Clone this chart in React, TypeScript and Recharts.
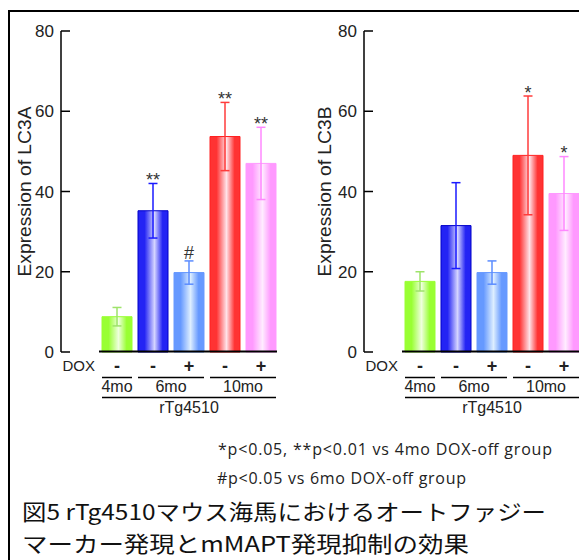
import { Bar, ComposedChart, ErrorBar, LabelList, Line, XAxis, YAxis } from "recharts";

// treatment groups along the x axis
const doxSigns = ["-", "-", "+", "-", "+"];
const ageGroups = ["4mo", "6mo", "6mo", "10mo", "10mo"];
const strainName = "rTg4510";

// LC3A expression (mean, error, significance mark)
const lc3aMean = [8.8, 35.2, 19.8, 53.7, 47.0];
const lc3aErr = [2.3, 6.8, 2.9, 8.5, 9.0];
const lc3aMarks = ["", "**", "#", "**", "**"];

// LC3B expression
const lc3bMean = [17.6, 31.5, 19.8, 49.0, 39.5];
const lc3bErr = [2.4, 10.7, 2.9, 14.8, 9.2];
const lc3bMarks = ["", "", "", "*", "*"];

const yTicks = [0, 20, 40, 60, 80];

const footnotes = [
  "*p<0.05, **p<0.01 vs 4mo DOX-off group",
  "#p<0.05 vs 6mo DOX-off group",
];
const titleLines = [
  "図5 rTg4510マウス海馬におけるオートファジー",
  "マーカー発現とmMAPT発現抑制の効果",
];

const palette = [
  { edge: "#99ff33", light: "#eeffdd", stroke: "#99ff33", err: "#9ee36a" },
  { edge: "#2424f4", light: "#d4d4ff", stroke: "#0000c8", err: "#1a1aff" },
  { edge: "#6699ff", light: "#ddeeff", stroke: "#6699ff", err: "#5b8cff" },
  { edge: "#ff3333", light: "#ffe2e8", stroke: "#ff2020", err: "#ff3b3b" },
  { edge: "#ff99ff", light: "#ffecff", stroke: "#ff99ff", err: "#ff88ff" },
];

const BAND = 36;
const BAR = 30;
const FONT = "'Liberation Sans', Arial, sans-serif";
const INK = "#222";

const YTick = ({ x, y, payload }: any) => (
  <g>
    <line x1={x} x2={x + 9} y1={y} y2={y} stroke="#000" strokeWidth={1.5} />
    <text x={x - 7} y={y} dy="0.36em" textAnchor="end" fontSize={17} fontFamily={FONT} fill={INK}>
      {payload.value}
    </text>
  </g>
);

const GroupTick = (props: any) => {
  const { x, y } = props;
  const i: number = props.index ?? props.payload.index;
  const n = doxSigns.length;
  const half = BAR / 2;
  const last = i === n - 1;
  const joinsNext = !last && ageGroups[i + 1] === ageGroups[i];
  const startsGroup = i === 0 || ageGroups[i - 1] !== ageGroups[i];
  let size = 0;
  while (i + size < n && ageGroups[i + size] === ageGroups[i]) size++;
  return (
    <g fontFamily={FONT} fill={INK}>
      <line x1={x - BAND / 2} x2={last ? x + half + 1 : x + BAND / 2} y1={y - 0.5} y2={y - 0.5} stroke="#000" strokeWidth={2} />
      {i === 0 && (
        <text x={x - 22} y={y + 18.5} textAnchor="end" fontSize={15}>
          DOX
        </text>
      )}
      <text x={x} y={y + 20} textAnchor="middle" fontSize={18} fontWeight="bold">
        {doxSigns[i]}
      </text>
      <line x1={x - half} x2={joinsNext ? x + BAND - half : x + half} y1={y + 25.5} y2={y + 25.5} stroke="#000" strokeWidth={1.5} />
      {startsGroup && (
        <text x={x + ((size - 1) * BAND) / 2} y={y + 40} textAnchor="middle" fontSize={16}>
          {ageGroups[i]}
        </text>
      )}
      <line x1={x - half} x2={last ? x + half : x + BAND - half} y1={y + 45.5} y2={y + 45.5} stroke="#000" strokeWidth={1.5} />
      {i === Math.floor(n / 2) && (
        <text x={x} y={y + 61} textAnchor="middle" fontSize={16}>
          {strainName}
        </text>
      )}
    </g>
  );
};

const MarkLabel = ({ viewBox, value }: any) => {
  if (!value) return null;
  const lift = value === "#" ? 2 : -2.5;
  return (
    <text x={viewBox.x} y={viewBox.y - lift} textAnchor="middle" fontSize={18} fontFamily={FONT} fill="#333">
      {value}
    </text>
  );
};

interface PanelProps {
  id: string;
  title: string;
  mean: number[];
  err: number[];
  marks: string[];
  labelX: number;
}

const Panel = ({ id, title, mean, err, marks, labelX }: PanelProps) => {
  const rows = ageGroups.map((age, i) => ({
    key: `${age}${doxSigns[i]}`,
    [`v${i}`]: mean[i],
    [`e${i}`]: err[i],
    top: mean[i] + err[i],
    mark: marks[i],
  }));
  return (
    <ComposedChart width={290} height={420} data={rows} margin={{ top: 31, right: 11, bottom: 0, left: 0 }}>
      <defs>
        {palette.map((c, i) => (
          <linearGradient key={i} id={`${id}-g${i}`} x1="0" y1="0" x2="1" y2="0">
            <stop offset="0" stopColor={c.edge} />
            <stop offset="0.22" stopColor={c.edge} />
            <stop offset="0.55" stopColor={c.light} />
            <stop offset="0.82" stopColor={c.edge} />
            <stop offset="1" stopColor={c.edge} />
          </linearGradient>
        ))}
      </defs>
      <XAxis
        dataKey="key"
        interval={0}
        padding={{ left: 38, right: 0 }}
        axisLine={false}
        tickLine={false}
        tickSize={0}
        tickMargin={0}
        height={68}
        tick={<GroupTick />}
      />
      <YAxis
        domain={[0, 80]}
        ticks={yTicks}
        width={61}
        axisLine={{ stroke: "#000", strokeWidth: 1.5 }}
        tickLine={false}
        tickSize={0}
        tickMargin={0}
        tick={<YTick />}
        label={({ viewBox }: any) => (
          <text
            transform={`translate(${viewBox.x + labelX}, ${viewBox.y + viewBox.height / 2}) rotate(-90)`}
            textAnchor="middle"
            dominantBaseline="central"
            fontSize={18}
            fontFamily={FONT}
            fill={INK}
            textLength={170}
            lengthAdjust="spacingAndGlyphs"
          >
            {title}
          </text>
        )}
      />
      {palette.map((c, i) => (
        <Bar
          key={i}
          dataKey={`v${i}`}
          stackId="s"
          barSize={BAR}
          fill={`url(#${id}-g${i})`}
          stroke={c.stroke}
          strokeWidth={1}
          isAnimationActive={false}
        >
          <ErrorBar dataKey={`e${i}`} width={4.5} stroke={c.err} strokeWidth={1.5} />
        </Bar>
      ))}
      <Line dataKey="top" stroke="none" dot={false} activeDot={false} isAnimationActive={false}>
        <LabelList dataKey="mark" content={<MarkLabel />} />
      </Line>
    </ComposedChart>
  );
};

export default function App() {
  return (
    <div
      style={{
        position: "absolute",
        left: 0,
        top: 0,
        width: 579,
        height: 560,
        overflow: "hidden",
        background: "#fff",
      }}
    >
      <div
        style={{
          position: "absolute",
          left: 8,
          top: 10,
          width: 700,
          height: 700,
          borderTop: "2px solid #000",
          borderLeft: "2px solid #000",
        }}
      />
      <div style={{ position: "absolute", left: 0, top: 0 }}>
        <Panel id="a" title="Expression of LC3A" mean={lc3aMean} err={lc3aErr} marks={lc3aMarks} labelX={25} />
      </div>
      <div style={{ position: "absolute", left: 303, top: 0 }}>
        <Panel id="b" title="Expression of LC3B" mean={lc3bMean} err={lc3bErr} marks={lc3bMarks} labelX={22} />
      </div>
      <svg style={{ position: "absolute", left: 0, top: 420 }} width={579} height={140}>
        <text x={218} y={35} fontSize={16} fontFamily="'Open Sans', sans-serif" fill={INK} textLength={334}>
          {footnotes[0]}
        </text>
        <text x={217} y={64} fontSize={16} fontFamily="'Open Sans', sans-serif" fill={INK} textLength={249}>
          {footnotes[1]}
        </text>
        <text
          x={22}
          y={100}
          fontSize={21.5}
          fontFamily="'Noto Sans CJK JP', sans-serif"
          fill="#111"
          textLength={524}
          lengthAdjust="spacingAndGlyphs"
        >
          {titleLines[0]}
        </text>
        <text
          x={22}
          y={131.5}
          fontSize={21.5}
          fontFamily="'Noto Sans CJK JP', sans-serif"
          fill="#111"
          textLength={447}
          lengthAdjust="spacingAndGlyphs"
        >
          {titleLines[1]}
        </text>
      </svg>
    </div>
  );
}
